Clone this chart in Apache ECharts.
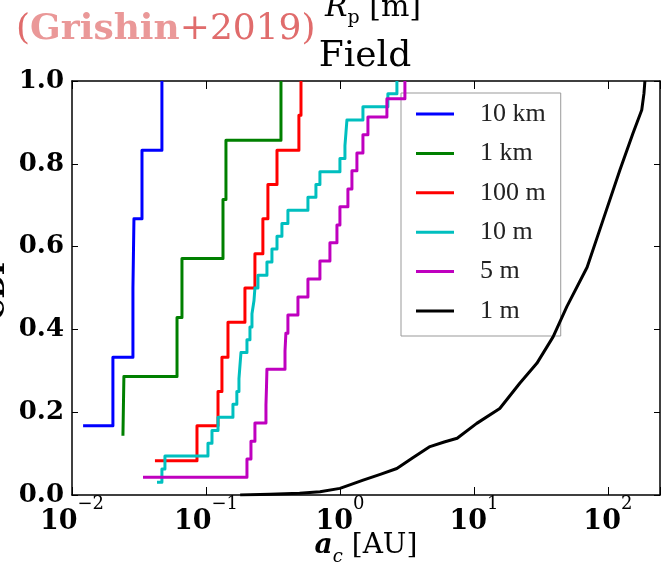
<!DOCTYPE html>
<html>
<head>
<meta charset="utf-8">
<script src="https://cdn.jsdelivr.net/npm/echarts@6.0.0/dist/echarts.min.js"></script>
<style>
    html, body {margin: 0; padding: 0; background: #fff;}
    #main {width: 661px; height: 565px;}
</style>
</head>
<body>
<div id="main"></div>
<script>
// CDF of a_c for each planetesimal size
var names = ['10 km', '1 km', '100 m', '10 m', '5 m', '1 m'];
var colors = ['#0000ff', '#008000', '#ff0000', '#00bfbf', '#bf00bf', '#000000'];

var blueX = [0.0121, 0.0202, 0.0285, 0.0290, 0.0333, 0.0469];
var blueY = [0.167, 0.333, 0.5, 0.667, 0.833, 1.0];

var greenX = [0.0240, 0.0244, 0.0608, 0.0662, 0.134, 0.141, 0.363];
var greenY = [0.143, 0.286, 0.429, 0.571, 0.714, 0.857, 1.0];

var redX = [0.0416, 0.0857, 0.123, 0.1316, 0.146, 0.1954, 0.232, 0.266, 0.290, 0.339, 0.494, 0.512];
var redY = [0.083, 0.167, 0.25, 0.333, 0.417, 0.5, 0.583, 0.667, 0.75, 0.833, 0.917, 1.0];

var cyanX = [0.0431, 0.0469, 0.0494, 0.1035, 0.1109, 0.123, 0.159, 0.170, 0.1763, 0.1794, 0.1825,
    0.2023, 0.213, 0.2205, 0.2282, 0.232, 0.2443, 0.2852, 0.3108, 0.339, 0.369, 0.409, 0.577,
    0.662, 0.709, 1.0, 1.09, 1.109, 1.128, 1.485, 2.28, 2.663];
var cyanY = [0.031, 0.063, 0.094, 0.125, 0.156, 0.188, 0.219, 0.25, 0.281, 0.313, 0.344,
    0.375, 0.406, 0.438, 0.469, 0.5, 0.531, 0.563, 0.594, 0.625, 0.656, 0.688, 0.719,
    0.75, 0.781, 0.813, 0.844, 0.875, 0.906, 0.938, 0.969, 1.0];

var magentaX = [0.0339, 0.2023, 0.2167, 0.232, 0.2804, 0.283, 0.2852, 0.389, 0.395, 0.409, 0.486,
    0.577, 0.709, 0.842, 0.950, 1.0, 1.147, 1.229, 1.339, 1.485, 1.618, 2.242, 3.055];
var magentaY = [0.043, 0.087, 0.13, 0.174, 0.217, 0.261, 0.304, 0.348, 0.391, 0.435, 0.478,
    0.522, 0.565, 0.609, 0.652, 0.696, 0.739, 0.783, 0.826, 0.87, 0.913, 0.957, 1.0];

var blackX = [0.18, 0.3, 0.5, 0.71, 1.0, 1.2, 1.49, 2.0, 2.66, 3.5, 4.7, 6.0, 7.5, 10.5, 15.6,
    22, 29.5, 39, 49.4, 70, 92, 123, 154, 179, 186, 189];
var blackY = [0.0, 0.002, 0.004, 0.008, 0.016, 0.025, 0.036, 0.05, 0.064, 0.09, 0.117, 0.128,
    0.137, 0.173, 0.209, 0.27, 0.318, 0.382, 0.455, 0.55, 0.664, 0.785, 0.874, 0.93, 0.97, 1.0];

var yTicks = [0, 0.2, 0.4, 0.6, 0.8, 1.0];

var xs = [blueX, greenX, redX, cyanX, magentaX, blackX];
var ys = [blueY, greenY, redY, cyanY, magentaY, blackY];

function zip(a, b) {
    return a.map(function (v, i) { return [v, b[i]]; });
}

var myChart = echarts.init(document.getElementById('main'));

var serif = 'DejaVu Serif';
var frame = {show: true, onZero: false, lineStyle: {color: '#000', width: 1.5}};

var series = names.map(function (n, i) {
    return {
        name: n,
        type: 'line',
        step: i < 5 ? 'end' : false,
        data: zip(xs[i], ys[i]),
        showSymbol: false,
        symbol: 'none',
        lineStyle: {width: 3, color: colors[i], join: 'round'},
        itemStyle: {color: colors[i]},
        z: 2 + i
    };
});

var option = {
    animation: false,
    backgroundColor: '#fff',
    title: [
        {
            text: 'Field',
            left: 365, top: 39, padding: 0,
            textAlign: 'center',
            textStyle: {fontFamily: serif, fontWeight: 'normal', fontSize: 36, color: '#000'}
        },
        {
            text: '{r|R}{p|p}{m| [m]}',
            left: 373, top: -12, padding: 0,
            textAlign: 'center',
            textStyle: {
                fontWeight: 'normal',
                rich: {
                    r: {fontFamily: serif, fontStyle: 'italic', fontWeight: 'normal', fontSize: 30, color: '#000', lineHeight: 40},
                    p: {fontFamily: serif, fontWeight: 'normal', fontSize: 19, color: '#000', lineHeight: 40, verticalAlign: 'bottom'},
                    m: {fontFamily: serif, fontWeight: 'normal', fontSize: 30, color: '#000', lineHeight: 40}
                }
            }
        },
        {
            text: '{o|(}{g|Grishin}{o|+2019)}',
            left: 16, top: 8, padding: 0,
            textStyle: {
                fontWeight: 'normal',
                rich: {
                    o: {fontFamily: serif, fontWeight: 'normal', fontSize: 36, color: '#e06c6c', lineHeight: 44},
                    g: {fontFamily: serif, fontWeight: 'bold', fontSize: 36, color: '#ea9898', lineHeight: 44}
                }
            }
        }
    ],
    legend: {
        orient: 'vertical',
        left: 401, top: 93,
        padding: [8, 15, 12, 15],
        itemGap: 13.4,
        itemWidth: 38,
        itemHeight: 3,
        icon: 'rect',
        backgroundColor: '#fff',
        borderColor: '#999',
        borderWidth: 1,
        borderRadius: 0,
        textStyle: {fontFamily: 'Liberation Serif', fontSize: 26, color: '#222', lineHeight: 22, padding: [0, 0, 0, 21]},
        data: names
    },
    grid: {left: 72, top: 81, right: 1, bottom: 70, containLabel: false, outerBoundsMode: 'none'},
    xAxis: [
        {
            type: 'log', logBase: 10, min: 0.01, max: 245,
            position: 'bottom',
            axisLine: frame,
            axisTick: {inside: true, length: 8, lineStyle: {color: '#000', width: 1}},
            splitLine: {show: false},
            axisLabel: {
                margin: 0,
                formatter: function (v) {
                    var e = Math.log10(v);
                    var r = Math.round(e);
                    if (Math.abs(e - r) > 1e-6) return '';
                    return '{b|10}{s|' + String(r).replace('-', '\u2212') + '}';
                },
                rich: {
                    b: {fontFamily: serif, fontWeight: 'bold', fontSize: 27, color: '#000', lineHeight: 40, verticalAlign: 'bottom'},
                    s: {fontFamily: serif, fontSize: 18, color: '#000', lineHeight: 40, verticalAlign: 'top'}
                }
            },
            name: '{a|a}{c|c}{t| [AU]}',
            nameLocation: 'middle',
            nameGap: 31,
            nameMoveOverlap: false,
            nameTextStyle: {
                rich: {
                    a: {fontFamily: serif, fontWeight: 'bold', fontStyle: 'italic', fontSize: 28, color: '#000', lineHeight: 40},
                    c: {fontFamily: serif, fontStyle: 'italic', fontSize: 18, color: '#000', lineHeight: 40, verticalAlign: 'bottom'},
                    t: {fontFamily: serif, fontSize: 28, color: '#000', lineHeight: 40}
                }
            }
        },
        {
            type: 'log', logBase: 10, min: 0.01, max: 245,
            position: 'top',
            axisLine: frame,
            axisTick: {inside: true, length: 8, lineStyle: {color: '#000', width: 1}},
            axisLabel: {show: false},
            splitLine: {show: false}
        }
    ],
    yAxis: [
        {
            type: 'value', min: yTicks[0], max: yTicks[yTicks.length - 1], interval: 0.2,
            axisLine: frame,
            axisTick: {inside: true, length: 6, lineStyle: {color: '#000', width: 1}},
            splitLine: {show: false},
            axisLabel: {
                margin: 8,
                fontFamily: serif, fontWeight: 'bold', fontSize: 26, color: '#000',
                formatter: function (v) { return v.toFixed(1); }
            },
            name: 'CDF',
            nameLocation: 'middle',
            nameGap: 62,
            nameMoveOverlap: false,
            nameTextStyle: {fontFamily: serif, fontWeight: 'bold', fontSize: 27, color: '#000'}
        },
        {
            type: 'value', min: yTicks[0], max: yTicks[yTicks.length - 1], interval: 0.2,
            position: 'right',
            axisLine: frame,
            axisTick: {inside: true, length: 6, lineStyle: {color: '#000', width: 1}},
            axisLabel: {show: false},
            splitLine: {show: false}
        }
    ],
    series: series
};

myChart.setOption(option);
</script>
</body>
</html>
